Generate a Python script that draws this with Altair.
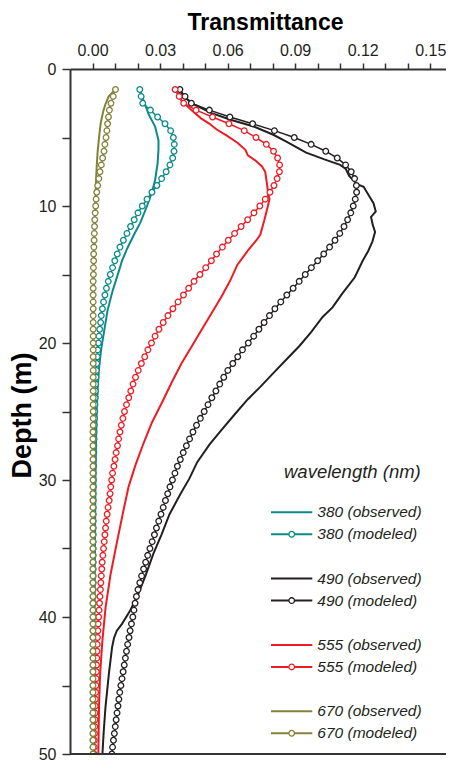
import altair as alt
import pandas as pd

FONT = "Liberation Sans"
INK = "#231f20"

# ---------------- data ----------------
SERIES = ["380", "490", "555", "670"]
COLORS = {"380": "#0b8a8a", "490": "#231f20", "555": "#ed1c24", "670": "#83823a"}

X_TICKS = [0.00, 0.01, 0.02, 0.03, 0.04, 0.05, 0.06, 0.07, 0.08, 0.09, 0.10,
           0.11, 0.12, 0.13, 0.14, 0.15]
Y_TICKS = [0, 5, 10, 15, 20, 25, 30, 35, 40, 45, 50]

# modeled profiles: one value every 0.5 m
DEPTH_MOD = [
    1.5, 2.0, 2.5, 3.0, 3.5, 4.0, 4.5, 5.0, 5.5, 6.0,
    6.5, 7.0, 7.5, 8.0, 8.5, 9.0, 9.5, 10.0, 10.5, 11.0,
    11.5, 12.0, 12.5, 13.0, 13.5, 14.0, 14.5, 15.0, 15.5, 16.0,
    16.5, 17.0, 17.5, 18.0, 18.5, 19.0, 19.5, 20.0, 20.5, 21.0,
    21.5, 22.0, 22.5, 23.0, 23.5, 24.0, 24.5, 25.0, 25.5, 26.0,
    26.5, 27.0, 27.5, 28.0, 28.5, 29.0, 29.5, 30.0, 30.5, 31.0,
    31.5, 32.0, 32.5, 33.0, 33.5, 34.0, 34.5, 35.0, 35.5, 36.0,
    36.5, 37.0, 37.5, 38.0, 38.5, 39.0, 39.5, 40.0, 40.5, 41.0,
    41.5, 42.0, 42.5, 43.0, 43.5, 44.0, 44.5, 45.0, 45.5, 46.0,
    46.5, 47.0, 47.5, 48.0, 48.5, 49.0, 49.5, 50.0,
]
MOD_380 = [
    0.0210, 0.0216, 0.0223, 0.0257, 0.0289, 0.0322, 0.0347, 0.0359, 0.0363, 0.0362,
    0.0356, 0.0344, 0.0327, 0.0307, 0.0286, 0.0264, 0.0242, 0.0221, 0.0202, 0.0185,
    0.0169, 0.0153, 0.0137, 0.0122, 0.0110, 0.0099, 0.0089, 0.0079, 0.0070, 0.0062,
    0.0055, 0.0049, 0.0044, 0.0039, 0.0036, 0.0032, 0.0029, 0.0026, 0.0023, 0.0021,
    0.0019, 0.0017, 0.0016, 0.0014, 0.0013, 0.0012, 0.0011, 0.0010, 0.0009, 0.0008,
    0.0007, 0.0007, 0.0006, 0.0006, 0.0005, 0.0005, 0.0004, 0.0004, 0.0004, 0.0003,
    0.0003, 0.0003, 0.0003, 0.0003, 0.0003, 0.0003, 0.0003, 0.0003, 0.0003, 0.0003,
    0.0003, 0.0003, 0.0003, 0.0003, 0.0003, 0.0003, 0.0003, 0.0003, 0.0003, 0.0003,
    0.0003, 0.0003, 0.0003, 0.0003, 0.0003, 0.0003, 0.0003, 0.0003, 0.0003, 0.0003,
    0.0003, 0.0003, 0.0003, 0.0003, 0.0003, 0.0003, 0.0003, 0.0003,
]
MOD_490 = [
    0.0388, 0.0411, 0.0439, 0.0519, 0.0610, 0.0711, 0.0808, 0.0896, 0.0971, 0.1036,
    0.1087, 0.1124, 0.1149, 0.1164, 0.1172, 0.1173, 0.1167, 0.1158, 0.1147, 0.1133,
    0.1117, 0.1098, 0.1077, 0.1053, 0.1027, 0.1000, 0.0972, 0.0945, 0.0918, 0.0891,
    0.0863, 0.0836, 0.0810, 0.0786, 0.0762, 0.0739, 0.0716, 0.0692, 0.0666, 0.0645,
    0.0623, 0.0601, 0.0583, 0.0565, 0.0548, 0.0530, 0.0513, 0.0496, 0.0479, 0.0462,
    0.0446, 0.0431, 0.0417, 0.0403, 0.0390, 0.0377, 0.0366, 0.0355, 0.0344, 0.0334,
    0.0324, 0.0314, 0.0304, 0.0294, 0.0284, 0.0275, 0.0265, 0.0255, 0.0245, 0.0236,
    0.0227, 0.0218, 0.0210, 0.0202, 0.0195, 0.0189, 0.0184, 0.0179, 0.0173, 0.0167,
    0.0162, 0.0156, 0.0151, 0.0146, 0.0141, 0.0136, 0.0131, 0.0126, 0.0121, 0.0117,
    0.0113, 0.0109, 0.0105, 0.0101, 0.0097, 0.0093, 0.0089, 0.0086,
]
MOD_555 = [
    0.0367, 0.0385, 0.0405, 0.0460, 0.0533, 0.0606, 0.0674, 0.0726, 0.0772, 0.0804,
    0.0822, 0.0831, 0.0830, 0.0820, 0.0806, 0.0788, 0.0767, 0.0743, 0.0717, 0.0689,
    0.0660, 0.0631, 0.0603, 0.0577, 0.0551, 0.0528, 0.0503, 0.0477, 0.0451, 0.0427,
    0.0404, 0.0380, 0.0357, 0.0335, 0.0314, 0.0295, 0.0278, 0.0262, 0.0246, 0.0232,
    0.0217, 0.0203, 0.0191, 0.0180, 0.0170, 0.0161, 0.0151, 0.0142, 0.0135, 0.0128,
    0.0122, 0.0116, 0.0111, 0.0105, 0.0100, 0.0095, 0.0089, 0.0085, 0.0081, 0.0078,
    0.0074, 0.0069, 0.0065, 0.0061, 0.0058, 0.0055, 0.0052, 0.0049, 0.0046, 0.0043,
    0.0041, 0.0039, 0.0037, 0.0035, 0.0033, 0.0031, 0.0029, 0.0027, 0.0025, 0.0024,
    0.0022, 0.0021, 0.0020, 0.0019, 0.0018, 0.0017, 0.0016, 0.0015, 0.0014, 0.0013,
    0.0012, 0.0011, 0.0011, 0.0010, 0.0009, 0.0008, 0.0008, 0.0007,
]
MOD_670 = [
    0.0102, 0.0092, 0.0082, 0.0075, 0.0071, 0.0067, 0.0064, 0.0060, 0.0055, 0.0051,
    0.0045, 0.0039, 0.0033, 0.0028, 0.0023, 0.0019, 0.0016, 0.0014, 0.0012, 0.0010,
    0.0009, 0.0008, 0.0007, 0.0006, 0.0005, 0.0005, 0.0004, 0.0004, 0.0003, 0.0003,
    0.0003, 0.0003, 0.0003, 0.0003, 0.0003, 0.0003, 0.0003, 0.0003, 0.0003, 0.0003,
    0.0003, 0.0003, 0.0003, 0.0003, 0.0003, 0.0003, 0.0003, 0.0003, 0.0003, 0.0003,
    0.0002, 0.0002, 0.0002, 0.0002, 0.0002, 0.0002, 0.0002, 0.0002, 0.0002, 0.0002,
    0.0002, 0.0002, 0.0002, 0.0002, 0.0002, 0.0002, 0.0002, 0.0002, 0.0002, 0.0002,
    0.0002, 0.0002, 0.0002, 0.0002, 0.0002, 0.0002, 0.0002, 0.0002, 0.0002, 0.0002,
    0.0002, 0.0002, 0.0002, 0.0002, 0.0002, 0.0002, 0.0002, 0.0002, 0.0002, 0.0002,
    0.0002, 0.0002, 0.0002, 0.0002, 0.0002, 0.0002, 0.0002, 0.0002,
]

# observed profiles (traced points along each line)
OBS_DEPTH_380 = [1.5, 2.3, 3.3, 4.2, 5.2, 5.9, 6.9, 8.1, 9.0, 10.0, 11.2, 12.1, 13.1, 14.0,
                 14.7, 16.2, 17.6, 19.1, 20.5, 22.0, 23.4, 24.8, 26.8, 30.0, 35.0, 40.0, 45.0, 50.0]
OBS_380 = [0.0210, 0.0227, 0.0249, 0.0278, 0.0293, 0.0293, 0.0289, 0.0278, 0.0264, 0.0242,
           0.0213, 0.0184, 0.0154, 0.0131, 0.0118, 0.0089, 0.0067, 0.0052, 0.0038, 0.0028,
           0.0023, 0.0019, 0.0016, 0.0013, 0.0011, 0.0009, 0.0008, 0.0007]

OBS_DEPTH_490 = [1.5, 2.0, 2.6, 3.2, 3.7, 4.2, 4.8, 5.3, 5.8, 6.1, 6.6, 7.0, 7.3, 7.8, 8.4,
                 8.6, 9.2, 9.8, 10.4, 10.8, 11.4, 11.9, 12.6, 13.3, 14.0, 15.2, 16.4, 17.4,
                 18.1, 19.2, 20.2, 21.2, 22.2, 23.2, 24.1, 25.2, 26.3, 27.4, 28.7, 29.9, 31.1,
                 32.5, 34.0, 35.4, 36.9, 38.3, 39.5, 40.5, 41.0, 41.5, 42.2, 44.1, 46.5, 48.3, 50.0]
OBS_490 = [0.0385, 0.0402, 0.0453, 0.0526, 0.0613, 0.0716, 0.0803, 0.0861, 0.0915, 0.0949,
           0.1030, 0.1100, 0.1125, 0.1140, 0.1175, 0.1204, 0.1226, 0.1248, 0.1258, 0.1237,
           0.1245, 0.1255, 0.1243, 0.1224, 0.1200, 0.1165, 0.1109, 0.1066, 0.1022, 0.0971,
           0.0920, 0.0861, 0.0803, 0.0745, 0.0690, 0.0632, 0.0575, 0.0520, 0.0465, 0.0430,
           0.0388, 0.0342, 0.0306, 0.0270, 0.0237, 0.0204, 0.0168, 0.0131, 0.0108, 0.0096,
           0.0087, 0.0073, 0.0058, 0.0050, 0.0044]

OBS_DEPTH_555 = [1.5, 2.3, 3.0, 3.6, 4.0, 4.4, 4.9, 5.4, 5.9, 6.3, 6.7, 7.1, 7.5, 8.3, 9.0,
                 9.5, 10.2, 11.1, 12.1, 12.5, 13.3, 14.3, 15.5, 16.7, 17.9, 19.1, 20.3, 21.5,
                 22.9, 24.4, 25.8, 27.3, 28.9, 30.5, 32.1, 34.5, 36.9, 39.3, 41.7, 44.1, 46.5, 50.0]
OBS_555 = [0.0367, 0.0395, 0.0439, 0.0482, 0.0520, 0.0550, 0.0600, 0.0645, 0.0679, 0.0690,
           0.0725, 0.0752, 0.0767, 0.0774, 0.0780, 0.0786, 0.0776, 0.0762, 0.0745, 0.0728,
           0.0688, 0.0643, 0.0610, 0.0570, 0.0526, 0.0482, 0.0439, 0.0395, 0.0351, 0.0307,
           0.0264, 0.0227, 0.0191, 0.0160, 0.0139, 0.0109, 0.0080, 0.0058, 0.0044, 0.0034,
           0.0029, 0.0026]

OBS_DEPTH_670 = [1.5, 2.0, 2.5, 3.0, 3.5, 4.0, 5.0, 6.0, 7.0, 8.0, 9.0, 10.0, 12.0, 15.0,
                 20.0, 30.0, 40.0, 50.0]
OBS_670 = [0.0102, 0.0072, 0.0059, 0.0049, 0.0042, 0.0036, 0.0029, 0.0023, 0.0019, 0.0016,
           0.0014, 0.0012, 0.0009, 0.0006, 0.0004, 0.0003, 0.0003, 0.0003]

LEGEND_TITLE = "wavelength (nm)"
LEGEND_LABELS = ["380 (observed)", "380 (modeled)", "490 (observed)", "490 (modeled)",
                 "555 (observed)", "555 (modeled)", "670 (observed)", "670 (modeled)"]

OBS = {"380": (OBS_DEPTH_380, OBS_380), "490": (OBS_DEPTH_490, OBS_490),
       "555": (OBS_DEPTH_555, OBS_555), "670": (OBS_DEPTH_670, OBS_670)}
MOD = {"380": MOD_380, "490": MOD_490, "555": MOD_555, "670": MOD_670}

# ---------------- chart ----------------
# total svg 438 x 754 so the page (8px margins) stays within 454 x 770
W, H = 376, 685
PAD = {"left": 62, "top": 61, "right": 0, "bottom": 8}

x_axis = alt.Axis(
    orient="top", values=X_TICKS, format=".2f",
    labelExpr="round(datum.value * 100) % 3 === 0 ? format(datum.value, '.2f') : ''",
    title="Transmittance", titleFont=FONT, titleFontSize=23, titleFontWeight="bold",
    titleColor="#000000", titleX=195, titleY=-40, titleAlign="center",
    titleBaseline="alphabetic",
    labelFont=FONT, labelFontSize=16, labelColor=INK, labelPadding=5, labelFlush=False,
    tickSize=6, tickWidth=1.5, tickColor="#333333", domainWidth=2, domainColor="#333333",
    grid=False,
)
y_axis = alt.Axis(
    orient="left", values=Y_TICKS,
    labelExpr="datum.value % 10 === 0 ? format(datum.value, 'd') : ''",
    title="Depth (m)", titleFont=FONT, titleFontSize=27, titleFontWeight="bold",
    titleColor="#000000", titleX=-48, titleY=346, titleAngle=270, titleAlign="center",
    titleBaseline="middle",
    labelFont=FONT, labelFontSize=16, labelColor=INK, labelPadding=6, labelFlush=False,
    tickSize=8, tickWidth=1.5, tickColor="#333333", domainWidth=2, domainColor="#333333",
    grid=False,
)
x_enc = alt.X("T:Q", scale=alt.Scale(domain=[-0.01, 0.157], nice=False, zero=False), axis=x_axis)
y_enc = alt.Y("depth:Q", scale=alt.Scale(domain=[0, 50], reverse=True, nice=False, zero=False),
              axis=y_axis)

layers = []
for s in SERIES:
    col = COLORS[s]
    od, ov = OBS[s]
    obs_df = pd.DataFrame({"depth": od, "T": ov})
    mod_df = pd.DataFrame({"depth": DEPTH_MOD, "T": MOD[s]})
    layers.append(alt.Chart(obs_df).mark_line(color=col, strokeWidth=2, clip=True)
                  .encode(x=x_enc, y=y_enc, order=alt.Order("depth:Q")))
    layers.append(alt.Chart(mod_df).mark_line(color=col, strokeWidth=1.5, clip=True)
                  .encode(x=x_enc, y=y_enc, order=alt.Order("depth:Q")))
    layers.append(alt.Chart(mod_df).mark_point(shape="circle", size=32, fill="white",
                                               fillOpacity=1, opacity=1, strokeWidth=1.3,
                                               stroke=col, clip=True)
                  .encode(x=x_enc, y=y_enc))

# bottom frame line
frame = alt.Chart(pd.DataFrame({"a": [0]})).mark_rule(color="#333333", strokeWidth=2).encode(
    x=alt.value(0), x2=alt.value(W), y=alt.value(H))

# ---------------- legend (pixel layout inside plot area) ----------------
rows = []
for i, lab in enumerate(LEGEND_LABELS):
    g, w = divmod(i, 2)
    rows.append({"label": lab, "color": COLORS[SERIES[g]], "modeled": w == 1,
                 "ly": 443.3 + g * 66.3 + w * 22.0, "lx1": 201.0, "lx2": 242.3,
                 "px": 221.7, "tx": 247.3})
leg = pd.DataFrame(rows)

leg_rule = alt.Chart(leg).mark_rule(strokeWidth=2).encode(
    x=alt.X("lx1:Q", scale=None, axis=None), x2="lx2:Q",
    y=alt.Y("ly:Q", scale=None, axis=None),
    color=alt.Color("color:N", scale=None, legend=None))
leg_pt = alt.Chart(leg[leg["modeled"]]).mark_point(
    shape="circle", size=32, fill="white", fillOpacity=1, opacity=1, strokeWidth=1.3).encode(
    x=alt.X("px:Q", scale=None, axis=None), y=alt.Y("ly:Q", scale=None, axis=None),
    stroke=alt.Stroke("color:N", scale=None, legend=None))
leg_txt = alt.Chart(leg).mark_text(align="left", baseline="middle", font=FONT, fontSize=15.5,
                                   fontStyle="italic", color=INK).encode(
    x=alt.X("tx:Q", scale=None, axis=None), y=alt.Y("ly:Q", scale=None, axis=None),
    text="label:N")
leg_title = alt.Chart(pd.DataFrame({"t": [LEGEND_TITLE], "x": [214.0], "y": [402.7]})).mark_text(
    align="left", baseline="middle", font=FONT, fontSize=18.5, fontStyle="italic", color=INK
).encode(x=alt.X("x:Q", scale=None, axis=None), y=alt.Y("y:Q", scale=None, axis=None), text="t:N")

chart = alt.layer(*layers, frame, leg_rule, leg_pt, leg_txt, leg_title).properties(
    width=W, height=H,
    autosize=alt.AutoSizeParams(type="none"),
    padding=PAD,
    background="white",
).configure_view(stroke=None)

chart.save("out.html", embed_options={"renderer": "svg", "actions": False})
